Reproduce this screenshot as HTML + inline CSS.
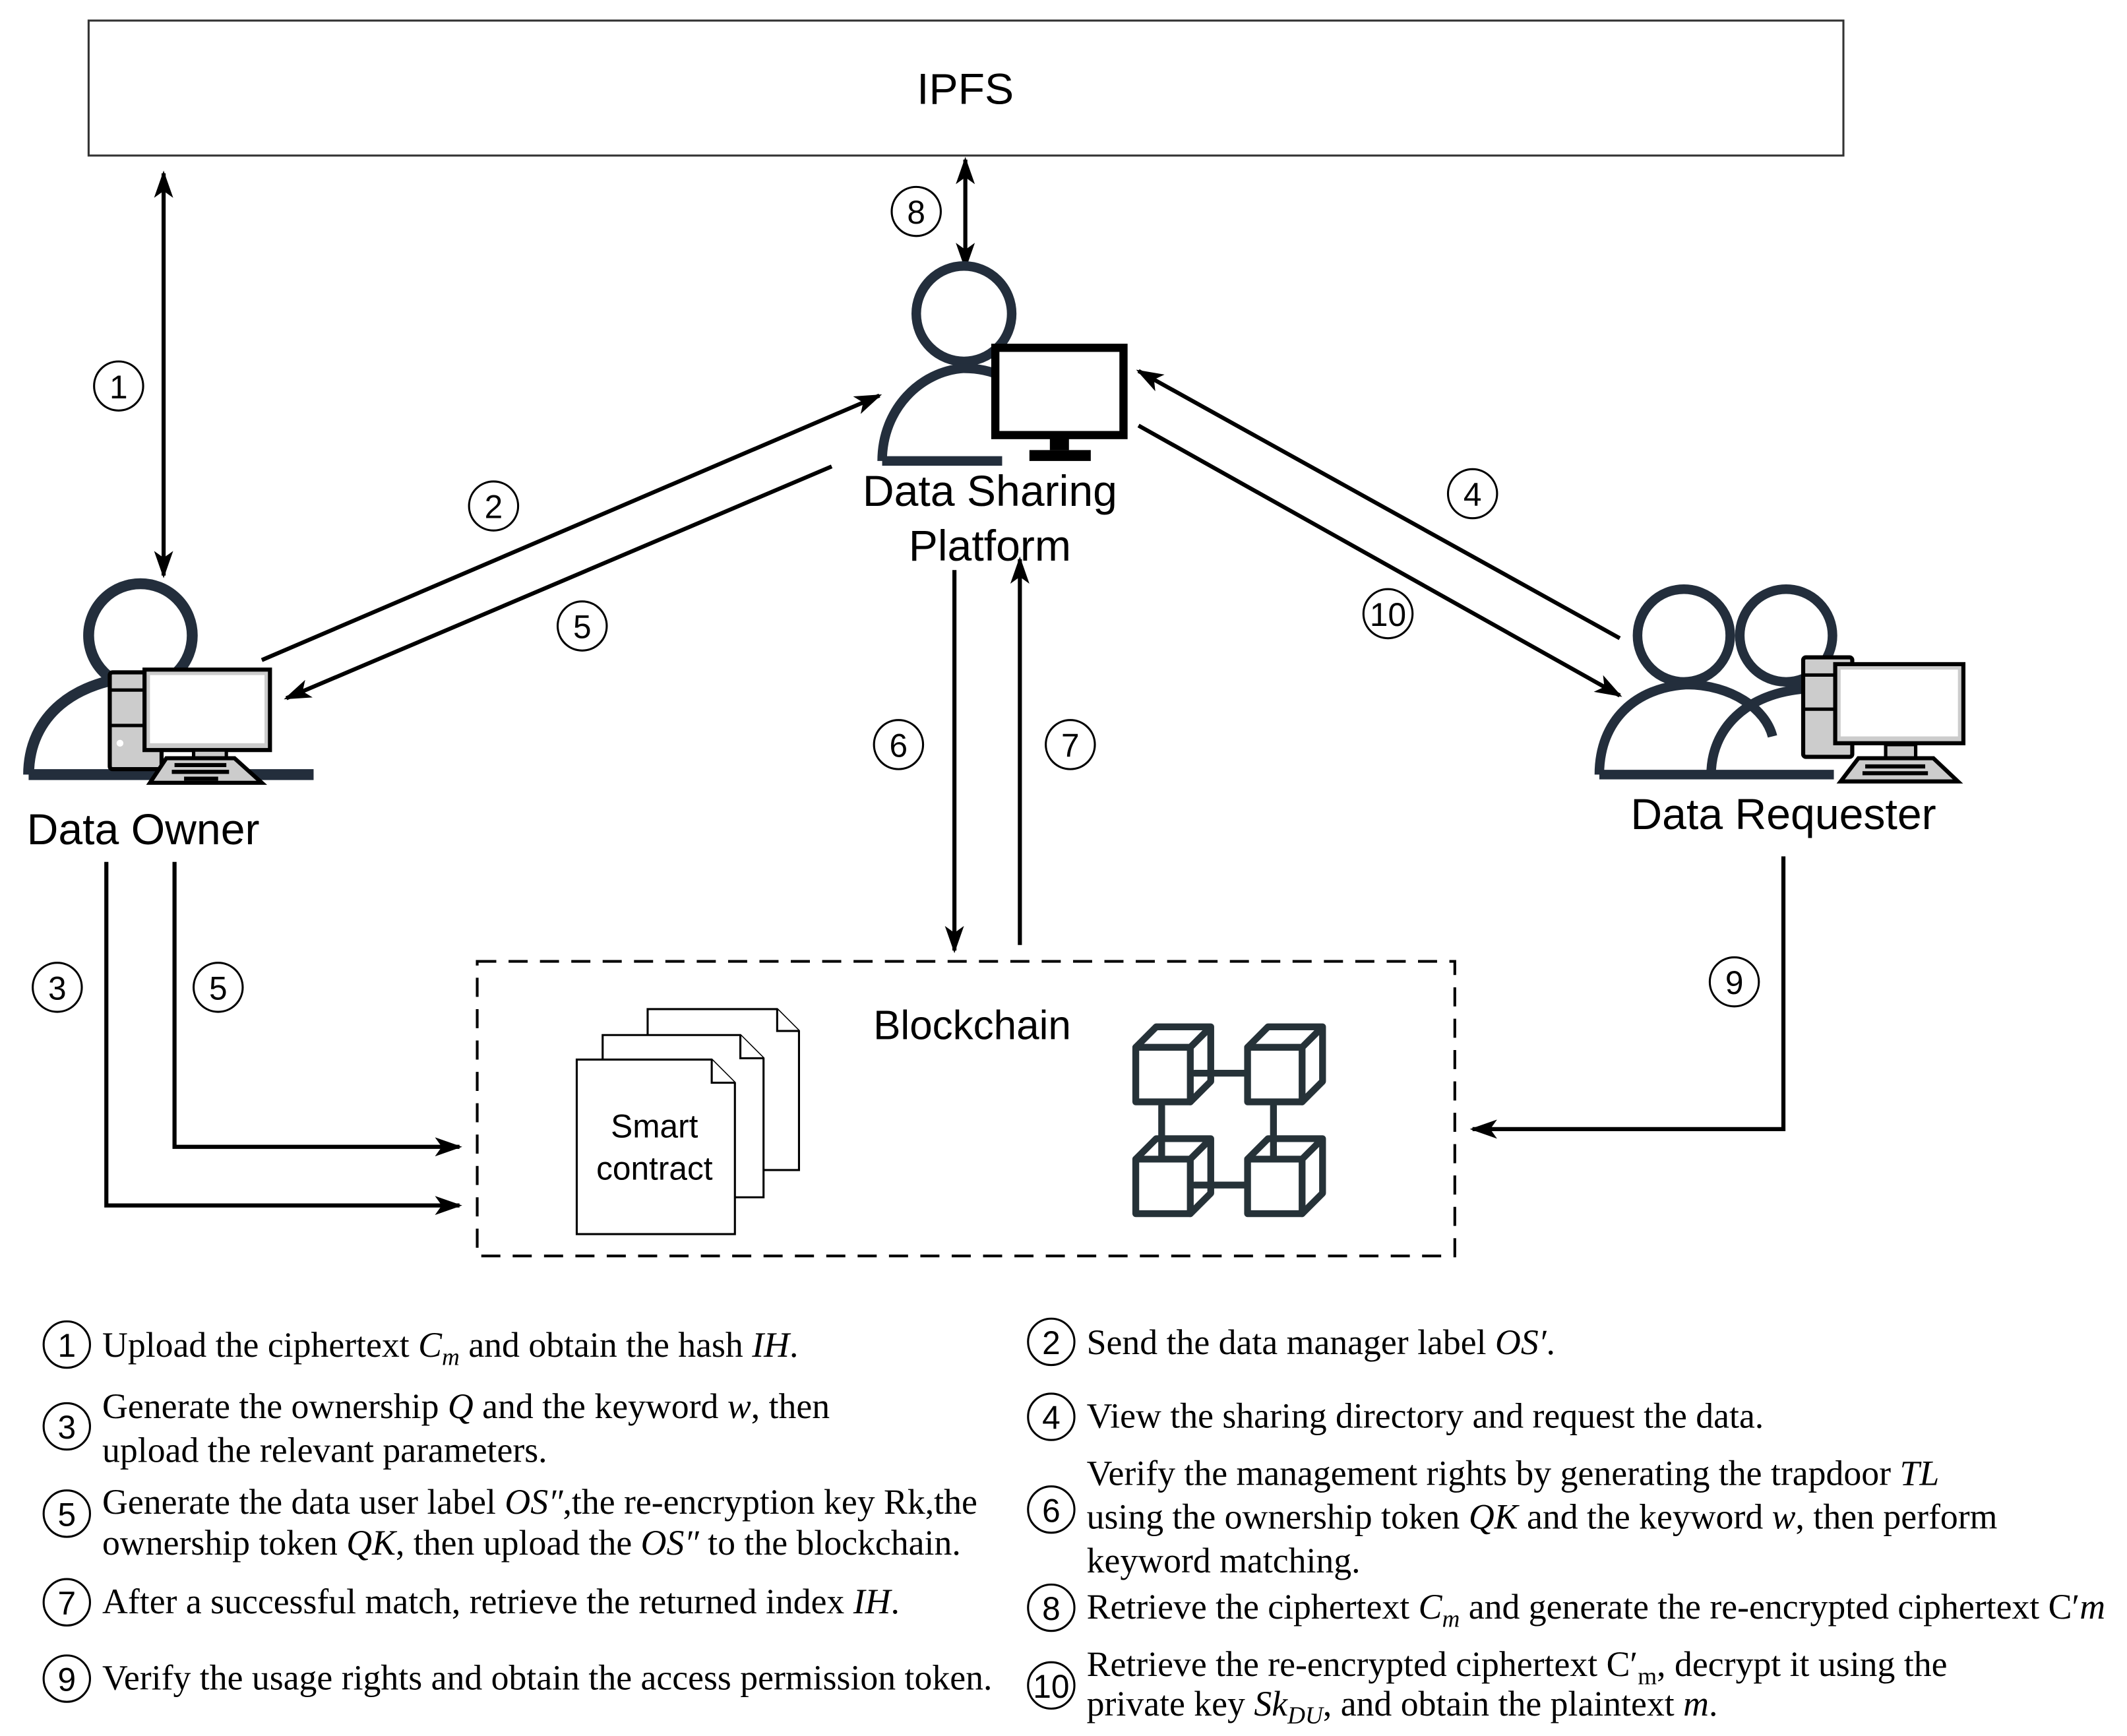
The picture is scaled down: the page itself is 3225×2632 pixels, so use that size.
<!DOCTYPE html>
<html><head><meta charset="utf-8"><style>html,body{margin:0;padding:0;background:#fff}svg{display:block}</style></head>
<body>
<svg xmlns="http://www.w3.org/2000/svg" width="3225" height="2632" viewBox="0 0 1560 1273">
<defs>
<marker id="ah" viewBox="0 0 20 14" refX="18" refY="7" markerWidth="20" markerHeight="14" markerUnits="userSpaceOnUse" orient="auto-start-reverse">
<path d="M0,0 L20,7 L0,14 L5,7 Z" fill="#000"/></marker>
</defs>
<rect width="1560" height="1273" fill="#fff"/>
<g font-family="Liberation Sans, sans-serif" fill="#000">
<rect x="65" y="15" width="1287" height="99" fill="none" stroke="#333" stroke-width="1.5"/>
<text x="708" y="76" font-size="32" text-anchor="middle">IPFS</text>

<g stroke="#000" stroke-width="3" fill="none">
<line x1="120" y1="127" x2="120" y2="422" marker-start="url(#ah)" marker-end="url(#ah)"/>
<line x1="708" y1="117" x2="708" y2="196" marker-start="url(#ah)" marker-end="url(#ah)"/>
<line x1="192" y1="484" x2="645" y2="290" marker-end="url(#ah)"/>
<line x1="610" y1="342" x2="210" y2="512" marker-end="url(#ah)"/>
<line x1="1188" y1="468" x2="835" y2="272" marker-end="url(#ah)"/>
<line x1="835" y1="312" x2="1188" y2="510" marker-end="url(#ah)"/>
<line x1="700" y1="418" x2="700" y2="697" marker-end="url(#ah)"/>
<line x1="748" y1="693" x2="748" y2="410" marker-end="url(#ah)"/>
<polyline points="78,632 78,884 337,884" marker-end="url(#ah)"/>
<polyline points="128,632 128,841 337,841" marker-end="url(#ah)"/>
<polyline points="1308,628 1308,828 1080,828" marker-end="url(#ah)"/>
</g>

<g fill="#fff" stroke="#000" stroke-width="1.5">
<circle cx="87" cy="283" r="18"/><circle cx="672" cy="155" r="18"/>
<circle cx="362" cy="371" r="18"/><circle cx="427" cy="459" r="18"/>
<circle cx="1080" cy="362" r="18"/><circle cx="1018" cy="450" r="18"/>
<circle cx="659" cy="546" r="18"/><circle cx="785" cy="546" r="18"/>
<circle cx="42" cy="724" r="18"/><circle cx="160" cy="724" r="18"/>
<circle cx="1272" cy="720" r="18"/>
</g>
<g font-size="24" text-anchor="middle">
<text x="87" y="292">1</text><text x="672" y="164">8</text><text x="362" y="380">2</text><text x="427" y="468">5</text>
<text x="1080" y="371">4</text><text x="1018" y="459">10</text><text x="659" y="555">6</text><text x="785" y="555">7</text>
<text x="42" y="733">3</text><text x="160" y="733">5</text><text x="1272" y="729">9</text>
</g>

<!-- Data sharing platform -->
<g fill="none" stroke="#232e3c" stroke-width="7">
<circle cx="707" cy="230" r="35"/>
<path d="M647,338 C647,300 675,272 707,270 C730,270 745,280 752,290"/>
<line x1="647" y1="338" x2="735" y2="338"/>
</g>
<rect x="730" y="255" width="94" height="64" fill="#fff" stroke="#000" stroke-width="6"/>
<rect x="770" y="320" width="14" height="10" fill="#000"/>
<rect x="755" y="330" width="45" height="8" fill="#000"/>
<text x="726" y="371" font-size="32" text-anchor="middle">Data Sharing</text>
<text x="726" y="411" font-size="32" text-anchor="middle">Platform</text>

<!-- Data owner -->
<g fill="none" stroke="#232e3c" stroke-width="8">
<circle cx="103" cy="466" r="38"/>
<path d="M21,568 C21,525 55,498 105,496"/>
<line x1="21" y1="568" x2="230" y2="568"/>
</g>
<rect x="80.5" y="493" width="38" height="71" rx="2" fill="#ccc" stroke="#000" stroke-width="3"/>
<line x1="81" y1="506" x2="108" y2="506" stroke="#000" stroke-width="2.5"/>
<line x1="81" y1="532" x2="108" y2="532" stroke="#000" stroke-width="2.5"/>
<circle cx="88" cy="545" r="2.5" fill="#fff"/>
<rect x="106" y="491" width="92" height="59" fill="#ccc" stroke="#000" stroke-width="3"/>
<rect x="110" y="495" width="84" height="50" fill="#fff"/>
<rect x="142" y="550" width="24" height="6" fill="#ccc" stroke="#000" stroke-width="2.5"/>
<polygon points="122,556 172,556 192,574 110,574" fill="#ccc" stroke="#000" stroke-width="3"/>
<g stroke="#000" stroke-width="3"><line x1="128" y1="561" x2="166" y2="561"/><line x1="126" y1="566" x2="168" y2="566"/><line x1="135" y1="571" x2="160" y2="571"/></g>
<text x="105" y="619" font-size="32" text-anchor="middle">Data Owner</text>

<!-- Data requester -->
<g fill="none" stroke="#232e3c" stroke-width="7">
<circle cx="1235" cy="466" r="34"/>
<circle cx="1310" cy="466" r="34"/>
<path d="M1173,568 C1173,528 1200,504 1237,502 C1270,502 1295,520 1300,540"/>
<path d="M1255,568 C1255,535 1280,508 1325,505"/>
<line x1="1173" y1="568" x2="1345" y2="568"/>
</g>
<rect x="1322.5" y="482" width="36" height="73" rx="2" fill="#ccc" stroke="#000" stroke-width="3"/>
<line x1="1323" y1="495" x2="1348" y2="495" stroke="#000" stroke-width="2.5"/>
<line x1="1323" y1="520" x2="1348" y2="520" stroke="#000" stroke-width="2.5"/>
<rect x="1346" y="487" width="94" height="58" fill="#ccc" stroke="#000" stroke-width="3"/>
<rect x="1350" y="491" width="86" height="49" fill="#fff"/>
<rect x="1383" y="546" width="22" height="10" fill="#ccc" stroke="#000" stroke-width="2.5"/>
<polygon points="1363,556 1418,556 1436,573 1350,573" fill="#ccc" stroke="#000" stroke-width="3"/>
<g stroke="#000" stroke-width="3"><line x1="1368" y1="562" x2="1412" y2="562"/><line x1="1366" y1="567" x2="1414" y2="567"/></g>
<text x="1308" y="608" font-size="32" text-anchor="middle">Data Requester</text>

<!-- Blockchain -->
<rect x="350" y="705" width="717" height="216" fill="none" stroke="#000" stroke-width="2" stroke-dasharray="14,9"/>
<text x="713" y="762" font-size="30" text-anchor="middle">Blockchain</text>
<g fill="#fff" stroke="#000" stroke-width="1.5">
<path d="M475,740 L570,740 L586,756 L586,858 L475,858 Z"/><path d="M570,740 L570,756 L586,756"/>
<path d="M442,759 L543,759 L560,776 L560,878 L442,878 Z"/><path d="M543,759 L543,776 L560,776"/>
<path d="M423,777 L522,777 L539,794 L539,905 L423,905 Z"/><path d="M522,777 L522,794 L539,794"/>
</g>
<text x="480" y="834" font-size="24" text-anchor="middle">Smart</text>
<text x="480" y="865" font-size="24" text-anchor="middle">contract</text>

<g fill="none" stroke="#263238" stroke-width="5" stroke-linejoin="round" stroke-linecap="round">
<g><rect x="833" y="768" width="40" height="40"/><path d="M833,768 L848,753 L888,753 L873,768 M888,753 L888,793 L873,808"/></g>
<g transform="translate(82,0)"><rect x="833" y="768" width="40" height="40"/><path d="M833,768 L848,753 L888,753 L873,768 M888,753 L888,793 L873,808"/></g>
<g transform="translate(0,82)"><rect x="833" y="768" width="40" height="40"/><path d="M833,768 L848,753 L888,753 L873,768 M888,753 L888,793 L873,808"/></g>
<g transform="translate(82,82)"><rect x="833" y="768" width="40" height="40"/><path d="M833,768 L848,753 L888,753 L873,768 M888,753 L888,793 L873,808"/></g>
<line x1="876" y1="787" x2="914" y2="787"/><line x1="876" y1="869" x2="914" y2="869"/>
<line x1="852" y1="811" x2="852" y2="848"/><line x1="934" y1="811" x2="934" y2="848"/>
</g>
</g>

<!-- Legend -->
<g fill="none" stroke="#000" stroke-width="1.5">
<circle cx="49" cy="986" r="17"/><circle cx="49" cy="1046" r="17"/><circle cx="49" cy="1110" r="17"/><circle cx="49" cy="1175" r="17"/><circle cx="49" cy="1231" r="17"/>
<circle cx="771" cy="984" r="17"/><circle cx="771" cy="1039" r="17"/><circle cx="771" cy="1107" r="17"/><circle cx="771" cy="1179" r="17"/><circle cx="771" cy="1236" r="17"/>
</g>
<g font-family="Liberation Sans, sans-serif" font-size="24" text-anchor="middle">
<text x="49" y="995">1</text><text x="49" y="1055">3</text><text x="49" y="1119">5</text><text x="49" y="1184">7</text><text x="49" y="1240">9</text>
<text x="771" y="993">2</text><text x="771" y="1048">4</text><text x="771" y="1116">6</text><text x="771" y="1188">8</text><text x="771" y="1245">10</text>
</g>
<g font-family="Liberation Serif, serif" font-size="26" fill="#000">
<text x="75" y="995">Upload the ciphertext <tspan font-style="italic">C</tspan><tspan font-style="italic" font-size="18" dy="6">m</tspan><tspan dy="-6"> and obtain the hash </tspan><tspan font-style="italic">IH</tspan>.</text>
<text x="75" y="1040">Generate the ownership <tspan font-style="italic">Q</tspan> and the keyword <tspan font-style="italic">w</tspan>, then</text>
<text x="75" y="1072">upload the relevant parameters.</text>
<text x="75" y="1110">Generate the data user label <tspan font-style="italic">OS″</tspan>,the re-encryption key Rk,the</text>
<text x="75" y="1140">ownership token <tspan font-style="italic">QK</tspan>, then upload the <tspan font-style="italic">OS″</tspan> to the blockchain.</text>
<text x="75" y="1183">After a successful match, retrieve the returned index <tspan font-style="italic">IH</tspan>.</text>
<text x="75" y="1239">Verify the usage rights and obtain the access permission token.</text>
<text x="797" y="993">Send the data manager label <tspan font-style="italic">OS′</tspan>.</text>
<text x="797" y="1047">View the sharing directory and request the data.</text>
<text x="797" y="1089">Verify the management rights by generating the trapdoor <tspan font-style="italic">TL</tspan></text>
<text x="797" y="1121">using the ownership token <tspan font-style="italic">QK</tspan> and the keyword <tspan font-style="italic">w</tspan>, then perform</text>
<text x="797" y="1153">keyword matching.</text>
<text x="797" y="1187">Retrieve the ciphertext <tspan font-style="italic">C</tspan><tspan font-style="italic" font-size="18" dy="6">m</tspan><tspan dy="-6"> and generate the re-encrypted ciphertext C′</tspan><tspan font-style="italic">m</tspan></text>
<text x="797" y="1229">Retrieve the re-encrypted ciphertext C′<tspan font-size="18" dy="6">m</tspan><tspan dy="-6">, decrypt it using the</tspan></text>
<text x="797" y="1258">private key <tspan font-style="italic">Sk</tspan><tspan font-style="italic" font-size="18" dy="6">DU</tspan><tspan dy="-6">, and obtain the plaintext </tspan><tspan font-style="italic">m</tspan>.</text>
</g>
</svg>
</body></html>
